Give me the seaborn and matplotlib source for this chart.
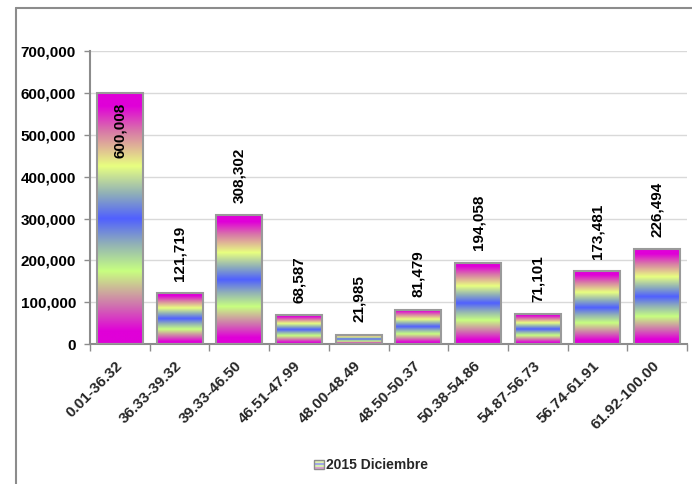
import numpy as np
import pandas as pd
import matplotlib
matplotlib.use("Agg")
import matplotlib.pyplot as plt
import matplotlib.transforms as mtransforms
from matplotlib.colors import LinearSegmentedColormap
from matplotlib.patches import Rectangle
from matplotlib.lines import Line2D
from matplotlib.legend_handler import HandlerBase
import seaborn as sns

categories = ["0.01-36.32", "36.33-39.32", "39.33-46.50", "46.51-47.99", "48.00-48.49",
              "48.50-50.37", "50.38-54.86", "54.87-56.73", "56.74-61.91", "61.92-100.00"]
values = [600008, 121719, 308302, 68587, 21985, 81479, 194058, 71101, 173481, 226494]
series_name = "2015 Diciembre"
yticks = [0, 100000, 200000, 300000, 400000, 500000, 600000, 700000]

df = pd.DataFrame({"cat": categories, "val": values})

sns.set_theme(style="white")
plt.rcParams["font.family"] = ["Liberation Sans", "DejaVu Sans"]
plt.rcParams["font.weight"] = "bold"

FS = 11

fig = plt.figure(figsize=(6.92, 4.84), dpi=100)
ax = fig.add_axes([90/692, 1-344/484, (687-90)/692, (344-51.4)/484])

sns.barplot(data=df, x="cat", y="val", ax=ax, width=0.77, color="white",
            edgecolor="#9a9a9a", linewidth=1.5, saturation=1)

grad_colors = [(0.00, "#e000d8"), (0.05, "#e000d8"), (0.15, "#d070b0"), (0.29, "#c8ff80"),
               (0.40, "#90b0b8"), (0.50, "#5060ff"), (0.60, "#90b0b8"), (0.71, "#e8ff80"),
               (0.85, "#d878a8"), (0.95, "#e000d8"), (1.00, "#e000d8")]
cmap = LinearSegmentedColormap.from_list("rb", grad_colors)
grad = np.linspace(0, 1, 256).reshape(-1, 1)

for p in ax.patches:
    x0, y0, w, h = p.get_x(), p.get_y(), p.get_width(), p.get_height()
    im = ax.imshow(grad, cmap=cmap, aspect="auto", origin="lower",
                   extent=(x0, x0 + w, y0, y0 + h), zorder=p.get_zorder() - 0.1,
                   interpolation="bilinear")
    im.set_clip_path(p)
    p.set_facecolor("none")
    p.set_zorder(3)

ax.set_xlim(-0.5, len(categories) - 0.5)
ax.set_ylim(0, 700000)
ax.set_yticks(yticks)
ax.set_yticklabels([f"{v:,}" for v in yticks], fontsize=FS, fontweight="bold")
ax.set_xlabel("")
ax.set_ylabel("")

# value labels
for i, v in enumerate(values):
    if v > 550000:
        ax.annotate(f"{v:,}", (i, v), xytext=(0, -7), textcoords="offset points",
                    rotation=90, ha="center", va="top", fontsize=FS, fontweight="bold",
                    color="black", zorder=5)
    else:
        ax.annotate(f"{v:,}", (i, v), xytext=(0, 9), textcoords="offset points",
                    rotation=90, ha="center", va="bottom", fontsize=FS, fontweight="bold",
                    color="black", zorder=5)

# grid and spines
ax.yaxis.grid(True, color="#d9d9d9", linewidth=1)
ax.set_axisbelow(True)
for s in ["top", "right"]:
    ax.spines[s].set_visible(False)
for s in ["left", "bottom"]:
    ax.spines[s].set_color("#8c8c8c")
    ax.spines[s].set_linewidth(1.5)

ax.tick_params(axis="y", which="major", left=True, length=4, width=1, color="#8c8c8c",
               pad=6, labelcolor="black")
ax.set_xticks(range(len(categories)))
ax.set_xticks(np.arange(-0.5, len(categories), 1.0), minor=True)
ax.tick_params(axis="x", which="major", bottom=False, length=0, pad=14)
ax.tick_params(axis="x", which="minor", bottom=True, length=5, width=1, color="#8c8c8c")
ax.set_xticklabels(categories, rotation=45, ha="right", rotation_mode="anchor",
                   fontsize=FS, fontweight="bold")
for lab in ax.get_xticklabels():
    lab.set_va("center")


class StripeHandler(HandlerBase):
    def create_artists(self, legend, orig_handle, xdescent, ydescent, width, height, fontsize, trans):
        arts = []
        cols = ["#d8a0d0", "#d8f0b0", "#a0a8e8", "#e0f0b0", "#d8a0d0"]
        side = height * 0.95
        x0 = -xdescent + width - side
        y0 = -ydescent + (height - side) / 2
        n = len(cols)
        for k, c in enumerate(cols):
            arts.append(Rectangle((x0, y0 + k * side / n), side, side / n, facecolor=c,
                                  edgecolor="none", transform=trans))
        arts.append(Rectangle((x0, y0), side, side, facecolor="none", edgecolor="#8c8c8c",
                              linewidth=1, transform=trans))
        return arts


handle = Rectangle((0, 0), 1, 1)
fig.legend([handle], [series_name], handler_map={Rectangle: StripeHandler()},
           loc="center", bbox_to_anchor=(370/692, 1-465/484), frameon=False,
           prop={"weight": "bold", "size": 10}, handlelength=0.8, handletextpad=0.15)

# outer frame (partially visible)
fig.add_artist(Line2D([16/692, 16/692], [1-8/484, -0.01], transform=fig.transFigure,
                      color="#8c8c8c", linewidth=1.5))
fig.add_artist(Line2D([16/692, 1.01], [1-8/484, 1-8/484], transform=fig.transFigure,
                      color="#8c8c8c", linewidth=1.5))

fig.savefig("out.png", dpi=100)
